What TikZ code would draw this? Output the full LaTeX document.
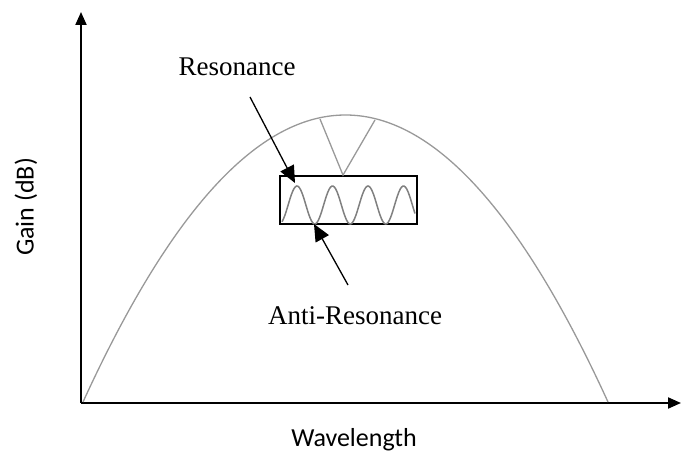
\documentclass[tikz,border=0pt]{standalone}
\usepackage{fontspec}
\setmainfont{Liberation Serif}
\newfontfamily\axisfont{Carlito}
\usetikzlibrary{arrows.meta, positioning, calc}

\begin{document}
\begin{tikzpicture}[x=1pt, y=-1pt, >={Triangle[length=17pt, width=15pt]},
    axis/.style={line width=2pt, -{Triangle[length=13pt, width=11pt]}},
    curve/.style={gray!80, line width=1.3pt},
    lbl/.style={font=\fontsize{27}{32}\selectfont, inner sep=0pt},
    axislbl/.style={font=\axisfont\fontsize{26}{30}\selectfont, inner sep=0pt}]
    \useasboundingbox (0,0) rectangle (681,457);

    % Axes
    \coordinate (O) at (81,403);
    \coordinate (ytop) at (81,12);
    \coordinate (xend) at (681,403);
    \draw[axis] (O) -- (ytop);
    \draw[axis] (O) -- (xend);

    % Gain curve
    \draw[curve] plot[domain=83:608, samples=120, smooth]
        (\x, {402 - 287*(1 - ((\x-345.5)/262.5)^2)});

    % Box with ripple
    \node (box) [draw, line width=1.8pt, minimum width=137pt, minimum height=48pt,
        inner sep=0pt] at (348.5,200) {};
    \draw[curve] (320,119) -- (box.north -| 343,0) -- (375,120);
    \draw[curve, gray, line width=1.5pt] plot[domain=282:415, samples=100, smooth]
        (\x, {205 - 19*cos(10.1408*(\x-297))});

    % Labels
    \node (res) [lbl] at (237,67) {Resonance};
    \node (antires) [lbl] at (355,316) {Anti-Resonance};
    \node (wl) [axislbl] at (354,440) {Wavelength};
    \node (gain) [axislbl, rotate=90] at (26,207) {Gain (dB)};

    % Pointers
    \coordinate (restail) at (250,97);
    \coordinate (restip) at (295,183);
    \coordinate (anttail) at (348,285);
    \coordinate (anttip) at (314,224);
    \draw[->, line width=1.3pt] (restail) -- (restip);
    \draw[->, line width=1.3pt] (anttail) -- (anttip);
\end{tikzpicture}
\end{document}
